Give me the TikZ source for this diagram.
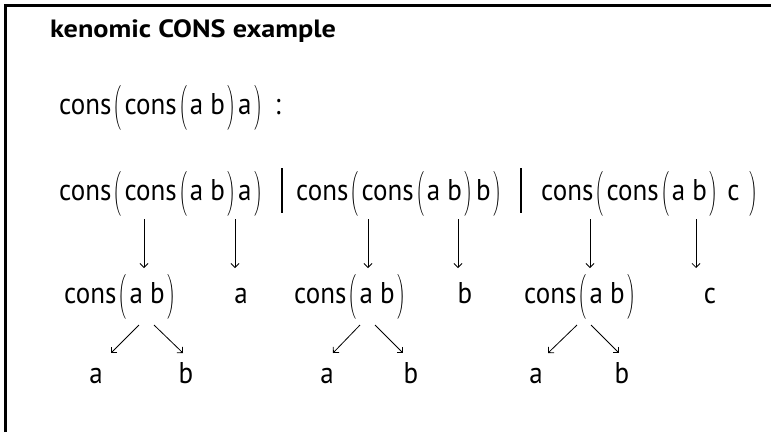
\documentclass[tikz,border=0pt]{standalone}
\usepackage{fontspec}
\usepackage{amsmath}
\setmainfont{PT Sans}
\newfontfamily\bodyfont[FakeStretch=0.9]{PT Sans}
\newfontfamily\titlefont[FakeStretch=1.13]{PT Sans Bold}
\usetikzlibrary{arrows.meta}
\nulldelimiterspace=0pt
\newcommand\lp{\kern2.5pt\scalebox{0.55}[1]{$\left(\vrule height 26pt depth 14pt width 0pt\right.$}\kern2.5pt}
\newcommand\rp{\kern2.5pt\scalebox{0.55}[1]{$\left.\vrule height 26pt depth 14pt width 0pt\right)$}\kern2.5pt}
\tikzset{
  txt/.style={inner sep=0pt, font=\bodyfont\fontsize{30}{36}\selectfont},
  ttl/.style={inner sep=0pt, font=\titlefont\fontsize{25}{30}\selectfont},
  arr/.style={line width=0.8pt, -{Straight Barb[length=4pt,width=8pt]}},
  bar/.style={line width=2.2pt},
  frame/.style={line width=3pt}
}
\begin{document}
\begin{tikzpicture}[x=1pt,y=-1pt]
\useasboundingbox (0,0) rectangle (771,432);
\draw[frame] (5,432) -- (5,5) -- (771,5);
\node[ttl, anchor=base west] (title) at (50,37) {kenomic CONS example};
\node[txt, anchor=base west] (r2) at (59,114) {cons\lp cons\lp a b\rp a\rp\kern10pt:};
\node[txt, anchor=base west] (e1) at (59,200) {cons\lp cons\lp a b\rp a\rp};
\node[txt, anchor=base west] (e2) at (296,200) {cons\lp cons\lp a b\rp\kern1pt b\rp};
\node[txt, anchor=base west] (e3) at (541,200) {cons\lp cons\lp a b\rp\ c \rp};
\coordinate (b1t) at (282,168); \coordinate (b1b) at (282,213);
\coordinate (b2t) at (521,168); \coordinate (b2b) at (521,213);
\draw[bar] (b1t) -- (b1b);
\draw[bar] (b2t) -- (b2b);
% row 4
\node[txt, anchor=base west] (m1) at (64,303) {cons\lp a b\rp};
\node[txt, anchor=base] (m2) at (241,303) {a};
\node[txt, anchor=base west] (m3) at (294,303) {cons\lp a b\rp};
\node[txt, anchor=base] (m4) at (465,303) {b};
\node[txt, anchor=base west] (m5) at (524,303) {cons\lp a b\rp};
\node[txt, anchor=base] (m6) at (710,303) {c};
% vertical arrows
\foreach \n/\x in {1/144,2/235,3/368,4/458,5/590,6/696}{
  \coordinate (vt\n) at (\x,219);
  \coordinate (vb\n) at (\x,268);
  \draw[arr] (vt\n) -- (vb\n);
}
% leaves
\node[txt, anchor=base] (l1) at (96,383) {a};
\node[txt, anchor=base] (l2) at (186,383) {b};
\node[txt, anchor=base] (l3) at (327,383) {a};
\node[txt, anchor=base] (l4) at (411,383) {b};
\node[txt, anchor=base] (l5) at (536,383) {a};
\node[txt, anchor=base] (l6) at (622,383) {b};
% diagonal arrows
\foreach \n/\xa/\xb in {1/139/111,2/154/183,3/360/333,4/375/403,5/577/548,6/591/619}{
  \coordinate (dt\n) at (\xa,325);
  \coordinate (db\n) at (\xb,353);
  \draw[arr] (dt\n) -- (db\n);
}
\end{tikzpicture}
\end{document}
